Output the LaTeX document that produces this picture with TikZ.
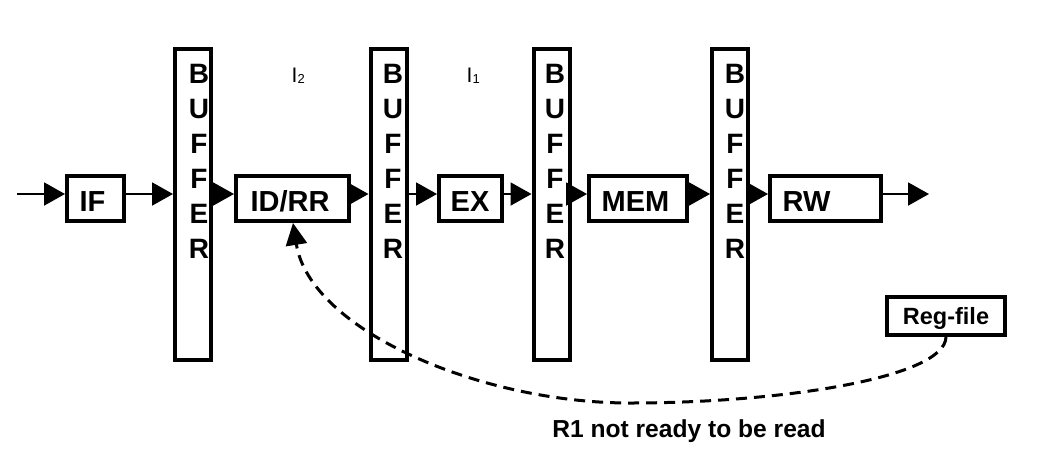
\documentclass[tikz,border=0pt]{standalone}
\usepackage{fontspec}
\setmainfont{Liberation Sans}
\usetikzlibrary{arrows.meta}
\tikzset{
  stagebox/.style={draw, line width=4pt, minimum height=45pt, inner sep=0pt},
  stagetext/.style={inner sep=0pt, anchor=base, font=\bfseries\fontsize{29}{29}\selectfont},
  bufbox/.style={draw, line width=4pt, minimum width=36pt, minimum height=311pt, inner sep=0pt},
  buftext/.style={anchor=base, inner sep=0pt, font=\bfseries\fontsize{28}{28}\selectfont},
  ilabel/.style={anchor=base west, inner sep=0pt, font=\fontsize{21}{21}\selectfont},
  flow/.style={line width=2pt, -{Triangle[length=21pt,width=23pt]}},
  hazard/.style={line width=3pt, dash pattern=on 11pt off 7pt, -{Triangle[length=22pt,width=21pt]}},
}
\begin{document}
\begin{tikzpicture}[x=1pt,y=-1pt]
\useasboundingbox (0,0) rectangle (1060,464);
% stages
\node[stagebox, minimum width=57pt] (IF) at (95.5,198.5) {};
\node[stagetext] (IFt) at (92.5,211) {IF};
\node[stagebox, minimum width=113pt] (IDRR) at (292.5,198.5) {};
\node[stagetext] (IDRRt) at (290,211) {ID/RR};
\node[stagebox, minimum width=63pt] (EX) at (470.5,198.5) {};
\node[stagetext] (EXt) at (470,211) {EX};
\node[stagebox, minimum width=98pt] (MEM) at (638,198.5) {};
\node[stagetext] (MEMt) at (635.5,211) {MEM};
\node[stagebox, minimum width=111pt] (RW) at (825.5,198.5) {};
\node[stagetext] (RWt) at (806.5,211) {RW};
% buffers
\node[bufbox] (B1) at (193,204.5) {};
\node[bufbox] (B2) at (388.5,204.5) {};
\node[bufbox] (B3) at (551.5,204.5) {};
\node[bufbox] (B4) at (730,204.5) {};
\foreach \bx/\tx in {1/199,2/393,3/555,4/735}{
  \foreach \l [count=\i] in {B,U,F,F,E,R}{
    \node[buftext] (B\bx-\i) at (\tx,48+35*\i) {\l};
  }
}
% instruction labels
\node[ilabel] (I2) at (291.5,82) {I\raisebox{-1pt}{\fontsize{13}{13}\selectfont 2}};
\node[ilabel] (I1) at (466.5,82) {I\raisebox{-1pt}{\fontsize{13}{13}\selectfont 1}};
% register file
\node[draw, line width=4pt, minimum width=118pt, minimum height=38pt, inner sep=0pt,
  font=\bfseries\fontsize{23.5}{23.5}\selectfont, text height=17pt, text depth=0pt] (RF) at (946,316) {Reg-file};
\node[inner sep=0pt, anchor=base, font=\bfseries\fontsize{24.6}{24.6}\selectfont] (note) at (689,437) {R1 not ready to be read};
% flow
\coordinate (in) at (17,194);
\coordinate (out) at (929,194);
\draw[flow] (in) -- (in -| IF.west);
\draw[flow] (IF.east |- in) -- (B1.west |- in);
\draw[flow] (B1.east |- in) -- (IDRR.west |- in);
\draw[flow] (IDRR.east |- in) -- (B2.west |- in);
\draw[flow] (B2.east |- in) -- (EX.west |- in);
\draw[flow] (EX.east |- in) -- (B3.west |- in);
\draw[flow] (B3.east |- in) -- (MEM.west |- in);
\draw[flow] (MEM.east |- in) -- (B4.west |- in);
\draw[flow] (B4.east |- in) -- (RW.west |- in);
\draw[flow] (RW.east |- in) -- (out);
% hazard
\coordinate (low) at (630,403);
\coordinate (tip) at (293,223);
\draw[hazard] (RF.south) .. controls (945,378) and (780,403) .. (low)
  .. controls (480,403) and (310,330) .. (tip);
\end{tikzpicture}
\end{document}
